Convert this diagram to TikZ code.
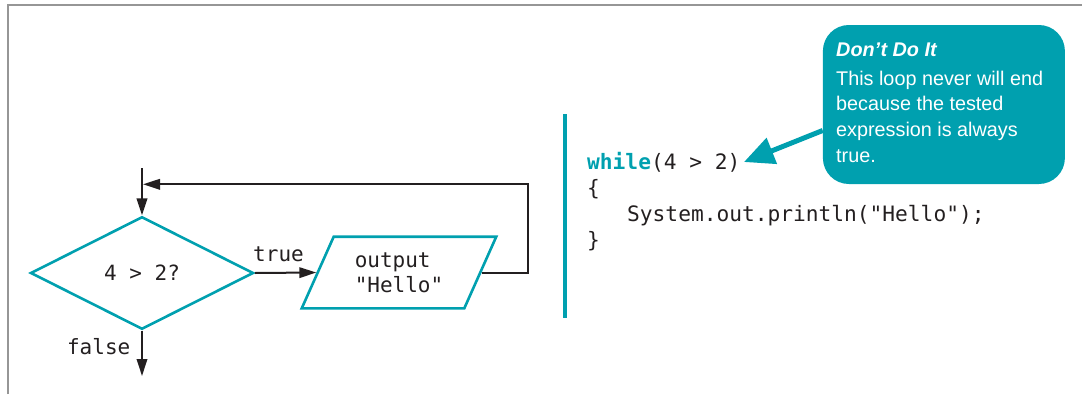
\documentclass[tikz,border=0pt]{standalone}
\usepackage{fontspec}
\setmainfont{Liberation Sans}
\newfontfamily\codefont{DejaVu Sans Mono}
\usetikzlibrary{shapes.geometric,arrows.meta}
\definecolor{tealc}{RGB}{0,160,175}
\definecolor{ink}{RGB}{35,31,32}
\definecolor{framec}{RGB}{150,150,150}
\tikzset{
  x=1pt, y=-1pt,
  mono/.style={font=\codefont\fontsize{21}{25}\selectfont, text=ink},
  flowline/.style={draw=ink, line width=2pt},
  arr/.style={flowline, -{Triangle[length=17pt,width=10.5pt]}},
  tealshape/.style={draw=tealc, line width=2.6pt, inner sep=0pt},
  callbox/.style={fill=tealc, rounded corners=26pt, minimum width=242pt, minimum height=159pt, inner sep=0pt},
  callarrow/.style={draw=tealc, line width=5pt, -{Triangle[length=30pt,width=27pt]}},
  calltext/.style={font=\fontsize{19.8}{25.8}\selectfont, text=white, align=left, inner sep=0pt},
  codetext/.style={font=\codefont\fontsize{21.2}{26}\selectfont, text=ink, align=left, inner sep=0pt},
}
\begin{document}
\begin{tikzpicture}
\useasboundingbox (0,0) rectangle (1082,394);
% frame
\draw[framec, line width=2.5pt] (7.8,394) -- (7.8,5) -- (1082,5);

% flowchart
\node[diamond, tealshape, minimum width=223pt, minimum height=112.6pt, mono] (d) at (142,273) {4 > 2?};
\node[trapezium, trapezium left angle=61.6, trapezium right angle=118.4, trapezium stretches=true,
      minimum width=194.6pt, minimum height=71.6pt, tealshape, mono, align=left] (p) at (399,272.5) {output\\"Hello"};
\coordinate (start) at (142,168);
\coordinate (loopr) at (528,184.3);
\coordinate (loopl) at (143,184.3);
\coordinate (endf) at (142,376);
\draw[arr] (start) -- (d.north);
\draw[arr] (d.east) -- (p.west);
\draw[arr] (p.east) -| (loopr) -- (loopl);
\draw[arr] (d.south) -- (endf);
\node[mono, anchor=base, inner sep=0pt] (truelbl) at (278.5,261) {true};
\node[mono, anchor=base east, inner sep=0pt] (falselbl) at (130.5,354.3) {false};

% code
\coordinate (bart) at (565,114);
\coordinate (barb) at (565,318);
\draw[tealc, line width=3.5pt] (bart) -- (barb);
\node[codetext, anchor=north west] (code) at (587,152) {\textcolor{tealc}{\textbf{while}}(4 > 2)\\{\{}\\\hspace*{40pt}System.out.println("Hello");\\\}};

% callout
\node[callbox] (callout) at (943.9,104.5) {};
\node[calltext, anchor=north west] (ctext) at (836,43) {\textbf{\textit{Don’t Do It}}\\[2.5pt]This loop never will end\\because the tested\\expression is always\\true.};
\coordinate (tip) at (744,162);
\draw[callarrow] ([yshift=-26pt]callout.west) -- (tip);
\end{tikzpicture}
\end{document}
